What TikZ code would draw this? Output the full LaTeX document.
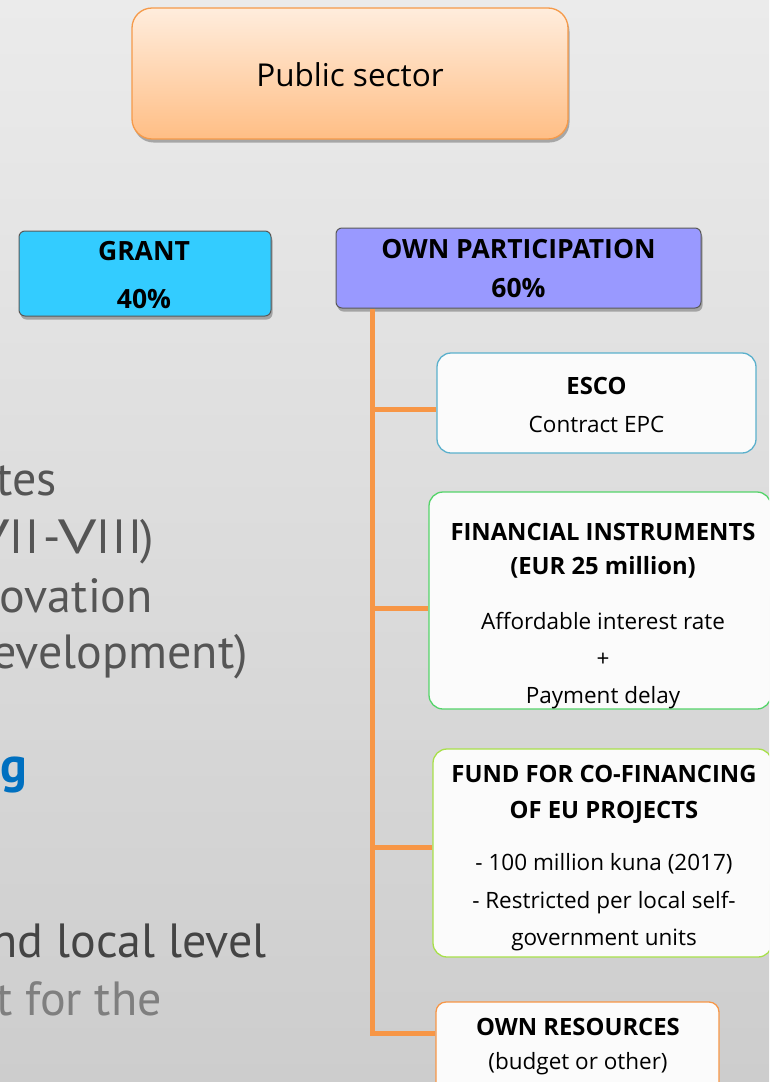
\documentclass[tikz,border=0pt]{standalone}
\usepackage{fontspec}
\setmainfont{Open Sans}
\newfontfamily\slidefont{PT Sans}
\usetikzlibrary{shadows,calc}
\definecolor{bgtop}{HTML}{EBEBEB}
\definecolor{bgbot}{HTML}{CDCDCD}
\definecolor{connc}{HTML}{F79646}
\definecolor{cardfill}{HTML}{FBFBFB}
\definecolor{escob}{HTML}{5BB0CC}
\definecolor{finb}{HTML}{55D46A}
\definecolor{fundb}{HTML}{A8E04A}
\definecolor{resb}{HTML}{F79646}
\definecolor{pubtop}{HTML}{FFEDDD}
\definecolor{pubbot}{HTML}{FFBE85}
\definecolor{pubb}{HTML}{F59A4A}
\definecolor{grantc}{HTML}{33CCFF}
\definecolor{ownc}{HTML}{9999FF}
\definecolor{slidegray}{HTML}{555555}
\definecolor{slidedark}{HTML}{444444}
\definecolor{slidelight}{HTML}{7F7F7F}
\definecolor{slideblue}{HTML}{0070C0}
\newcommand{\wideV}{\scalebox{1.4}[1]{V}}
\begin{document}
\begin{tikzpicture}[x=1pt,y=-1pt,
  card/.style={draw, rounded corners=14pt, fill=cardfill, line width=1.3pt, inner sep=0pt},
  softshadow/.style={drop shadow={shadow xshift=1.5pt, shadow yshift=-3.5pt, opacity=0.28, fill=black}},
  conn/.style={draw=connc, line width=5pt},
  btxt/.style={anchor=base, inner sep=0pt, font=\fontsize{22.5}{27}\selectfont},
  bhead/.style={btxt, font=\fontsize{23.8}{28}\selectfont\bfseries},
  thead/.style={anchor=base, inner sep=0pt, font=\fontsize{26.5}{31}\selectfont\bfseries},
  slide/.style={anchor=base east, inner sep=0pt, font=\fontsize{48}{56}\selectfont\slidefont, text=slidegray}
]
\useasboundingbox (0,0) rectangle (769,1082);
\clip (0,0) rectangle (769,1082);
\shade[top color=bgtop, bottom color=bgbot] (0,0) rectangle (769,1082);

% left slide text (cut off at the left edge)
\node[slide] (s1) at (57,495) {tes};
\node[slide] (s2) at (154,553) {\wideV I\kern2pt I\kern4pt-\kern-2.5pt\wideV I\kern2pt I\kern2pt I\kern-2pt)};
\node[slide] (s3) at (153,612) {ovation};
\node[slide] (s4) at (248,668) {evelopment)};
\node[slide, text=slideblue, font=\fontsize{50}{56}\selectfont\slidefont\bfseries] (s5) at (27,782) {g};
\node[slide, text=slidedark] (s6) at (267,957) {nd local level};
\node[slide, text=slidelight] (s7) at (162,1015) {t for the};

% top boxes
\node[draw=pubb, line width=1.3pt, rounded corners=20pt, top color=pubtop, bottom color=pubbot,
      minimum width=436pt, minimum height=131pt, softshadow] (pub) at (350,73.5) {};
\node[anchor=base, inner sep=0pt, font=\fontsize{31.5}{37}\selectfont] (pubt) at (350,86) {Public sector};

\node[draw=black!65, line width=1pt, rounded corners=6pt, fill=grantc,
      minimum width=252pt, minimum height=85pt, softshadow] (grant) at (145,273.5) {};
\node[thead] (grant1) at (144,260) {GRANT};
\node[thead] (grant2) at (144,308) {40\%};

\node[draw=black!65, line width=1pt, rounded corners=6pt, fill=ownc,
      minimum width=365pt, minimum height=80pt, softshadow] (own) at (518.5,268) {};
\node[thead] (own1) at (518.5,258) {OWN PARTICIPATION};
\node[thead] (own2) at (518.5,297) {60\%};

% cards
\node[card, draw=escob, minimum width=319pt, minimum height=100pt] (esco) at (596.5,403) {};
\node[card, draw=finb, minimum width=342pt, minimum height=217pt] (fin) at (600,600.5) {};
\node[card, draw=fundb, minimum width=339pt, minimum height=208pt] (fund) at (602.5,853) {};
\node[card, draw=resb, minimum width=283pt, minimum height=110pt, rounded corners=10pt] (res) at (577.5,1057) {};

% connectors
\coordinate (ttop) at ($(own.south west)+(37,0)$);
\coordinate (escoJ) at ([yshift=-6pt]esco.west);
\coordinate (finJ) at ([yshift=-7.5pt]fin.west);
\coordinate (fundJ) at ([yshift=6pt]fund.west);
\coordinate (resJ) at ([yshift=24pt]res.west);
\draw[conn] (ttop) |- (resJ);
\draw[conn] (ttop |- escoJ) -- (escoJ);
\draw[conn] (ttop |- finJ) -- (finJ);
\draw[conn] (ttop |- fundJ) -- (fundJ);

% card texts
\node[bhead] (esco1) at (esco.center |- 0,394) {ESCO};
\node[btxt] (esco2) at (esco.center |- 0,432) {Contract EPC};

\node[bhead] (fin1) at (603,540) {FINANCIAL INSTRUMENTS};
\node[bhead] (fin2) at (603,574) {(EUR 25 million)};
\node[btxt] (fin3) at (603,629) {Affordable interest rate};
\node[btxt] (fin4) at (603,666) {+};
\node[btxt] (fin5) at (603,703) {Payment delay};

\node[bhead] (fund1) at (604,782) {FUND FOR CO-FINANCING};
\node[bhead] (fund2) at (604,818) {OF EU PROJECTS};
\node[btxt] (fund3) at (604,870) {- 100 million kuna (2017)};
\node[btxt] (fund4) at (604,908) {- Restricted per local self-};
\node[btxt] (fund5) at (604,945) {government units};

\node[bhead] (res1) at (578,1035) {OWN RESOURCES};
\node[btxt] (res2) at (578,1069) {(budget or other)};
\end{tikzpicture}
\end{document}
